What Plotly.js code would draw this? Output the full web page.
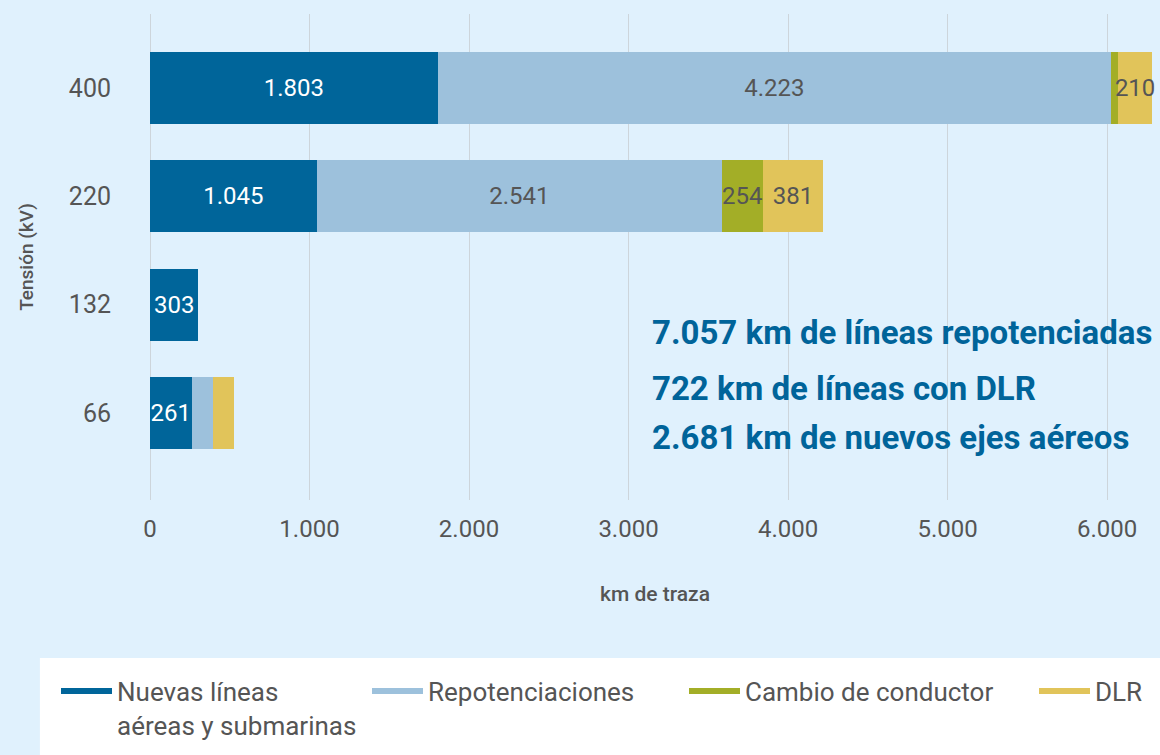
<!DOCTYPE html>
<html>
<head>
<meta charset="utf-8">
<script src="https://cdn.plot.ly/plotly-3.0.1.min.js"></script>
<style>
  html, body { margin: 0; padding: 0; background: #e0f1fd; }
  #chart { width: 1160px; height: 755px; }
</style>
</head>
<body>
<div id="chart"></div>
<script>
// ---- data ----
const categories = ['66', '132', '220', '400'];           // bottom to top
const nuevas      = [261, 303, 1045, 1803];
const repot       = [135, 0, 2541, 4223];
const cambio      = [0, 0, 254, 45];
const dlr         = [131, 0, 381, 210];
const seriesNames = ['Nuevas líneas<br>aéreas y submarinas', 'Repotenciaciones', 'Cambio de conductor', 'DLR'];
// which bar segments carry a value label
const showNuevas = [true, true, true, true];
const showRepot  = [false, false, true, true];
const showCambio = [false, false, true, false];
const showDlr    = [false, false, true, true];
const summaryLines = [
  '7.057 km de líneas repotenciadas',
  '722 km de líneas con DLR',
  '2.681 km de nuevos ejes aéreos'
];
const xTitle = 'km de traza';
const yTitle = 'Tensión (kV)';

// ---- styles ----
const colors = ['#00659a', '#9dc1dc', '#a3ae27', '#e1c45a'];
const labelColors = ['#ffffff', '#555555', '#555555', '#555555'];
const FONT = 'Roboto, "Open Sans", sans-serif';

function tmpl(mask) { return mask.map(s => s ? '%{x:,}' : ''); }

const values = [nuevas, repot, cambio, dlr];
const masks = [showNuevas, showRepot, showCambio, showDlr];

const traces = values.map((v, i) => ({
  type: 'bar',
  orientation: 'h',
  y: categories,
  x: v,
  name: seriesNames[i],
  marker: { color: colors[i], line: { width: 0 } },
  texttemplate: tmpl(masks[i]),
  textposition: 'inside',
  insidetextanchor: 'middle',
  constraintext: 'none',
  textangle: 0,
  cliponaxis: false,
  insidetextfont: { family: FONT, size: 24, color: labelColors[i] },
  showlegend: false,
  hoverinfo: 'x+name'
}));

const legendWidths = [245, 251, 284, 60];
const legendTraces = seriesNames.map((n, i) => ({
  type: 'scatter',
  mode: 'lines',
  x: [null],
  y: [null],
  name: n,
  line: { color: colors[i], width: 6 },
  legendwidth: legendWidths[i],
  showlegend: true,
  hoverinfo: 'skip'
}));

const annY = [0.344, 0.230, 0.128];
const annotations = summaryLines.map((t, i) => ({
  xref: 'paper', yref: 'paper',
  x: 0.495, y: annY[i],
  xanchor: 'left', yanchor: 'middle',
  text: '<b>' + t + '</b>',
  showarrow: false,
  font: { family: FONT, size: 33, color: '#00649a' }
}));

const layout = {
  width: 1160,
  height: 755,
  paper_bgcolor: '#e0f1fd',
  plot_bgcolor: '#e0f1fd',
  separators: ',.',
  barmode: 'stack',
  bargap: 0.335,
  margin: { l: 150, r: 0, t: 14, b: 255, pad: 0 },
  font: { family: FONT, color: '#555555' },
  xaxis: {
    range: [0, 6332],
    dtick: 1000,
    tick0: 0,
    tickformat: ',d',
    showgrid: true,
    gridcolor: '#cdd5db',
    gridwidth: 1,
    zeroline: true,
    zerolinecolor: '#cdd5db',
    zerolinewidth: 1,
    showline: false,
    ticks: '',
    ticklabelstandoff: 12,
    tickfont: { family: FONT, size: 24, color: '#555555' },
    title: { text: xTitle, font: { family: FONT, size: 21, color: '#555555', weight: 500 }, standoff: 44 },
    fixedrange: true
  },
  yaxis: {
    type: 'category',
    categoryorder: 'array',
    categoryarray: categories,
    range: [-0.80, 3.68],
    showgrid: false,
    zeroline: false,
    showline: false,
    ticks: '',
    ticklabelstandoff: 38,
    tickfont: { family: FONT, size: 25, color: '#555555' },
    title: { text: yTitle, font: { family: FONT, size: 19, color: '#555555', weight: 500 }, standoff: 30 },
    fixedrange: true
  },
  shapes: [{
    type: 'rect', xref: 'paper', yref: 'paper',
    x0: -0.109, x1: 1.0, y0: -0.325, y1: -0.53,
    fillcolor: '#ffffff', line: { width: 0 }, layer: 'below'
  }],
  legend: {
    orientation: 'h',
    x: -0.092, xanchor: 'left',
    y: -0.345, yanchor: 'top',
    bgcolor: 'rgba(0,0,0,0)',
    valign: 'top',
    font: { family: FONT, size: 26, color: '#555555' },
    itemwidth: 51,
    traceorder: 'normal'
  },
  annotations: annotations
};

Plotly.newPlot('chart', traces.concat(legendTraces), layout, { displayModeBar: false, staticPlot: true });
</script>
</body>
</html>
